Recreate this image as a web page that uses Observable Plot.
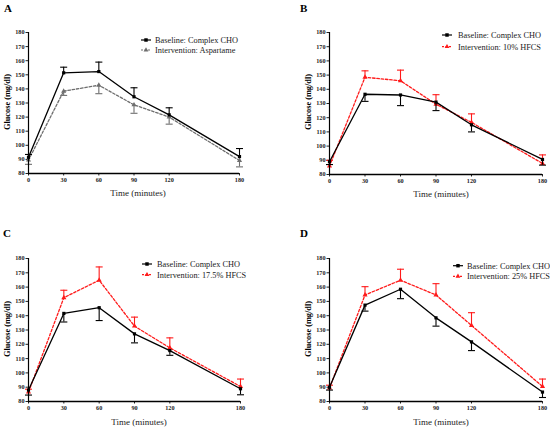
<!DOCTYPE html>
<html>
<head>
<meta charset="utf-8">
<script src="https://cdn.jsdelivr.net/npm/d3@7"></script>
<script src="https://cdn.jsdelivr.net/npm/@observablehq/plot@0.6"></script>
<style>
  html, body { margin: 0; padding: 0; background: #fff; }
  #wrap { position: relative; width: 550px; height: 428px; overflow: hidden; font-family: "Liberation Serif", "DejaVu Serif", serif; }
  .panel { position: absolute; width: 275px; height: 214px; }
  .panel > svg { position: absolute; left: 0; top: 0; }
</style>
</head>
<body>
<div id="wrap"></div>
<script>
// ---- data ----
const times = [0, 30, 60, 90, 120, 180];
const panelLetters = ["A", "B", "C", "D"];
const baselineName = "Baseline: Complex CHO";
const interventionNames = ["Intervention: Aspartame", "Intervention: 10% HFCS", "Intervention: 17.5% HFCS", "Intervention: 25% HFCS"];
const yTicks = [80, 90, 100, 110, 120, 130, 140, 150, 160, 170, 180];
const xTicks = [0, 30, 60, 90, 120, 180];

const baselineA = [91.5, 151.4, 152.3, 134.4, 121.6, 92];
const baselineSemA = [2, 4, 6.7, 6.4, 5, 5.7];
const interventionA = [89.5, 138.4, 142.6, 128.7, 120, 89.2];
const interventionSemA = [3, 3, 6, 6, 5, 4.5];

const baselineB = [89, 136.5, 136, 131, 115, 90.6];
const baselineSemB = [2, 5, 7.5, 6, 5, 4];
const interventionB = [86, 148.5, 146, 129.5, 116.7, 87.8];
const interventionSemB = [4, 4.5, 7.5, 6.7, 6, 6];

const baselineC = [88, 141.6, 145.6, 127.3, 115.6, 88.9];
const baselineSemC = [3.5, 6, 9, 6.3, 3.3, 4.2];
const interventionC = [86.6, 152.6, 164.8, 132.7, 117.5, 90.5];
const interventionSemC = [2, 5.2, 9.3, 6.3, 7, 5.2];

const baselineD = [90, 147.4, 158.5, 138.5, 121.7, 86.6];
const baselineSemD = [2, 4.2, 6.6, 5.8, 6.1, 3.8];
const interventionD = [89.4, 154.5, 164.8, 154.5, 133.2, 90.5];
const interventionSemD = [2, 5.8, 7.7, 7.9, 8.9, 5.2];

const baselines = [baselineA, baselineB, baselineC, baselineD];
const baselineSems = [baselineSemA, baselineSemB, baselineSemC, baselineSemD];
const interventions = [interventionA, interventionB, interventionC, interventionD];
const interventionSems = [interventionSemA, interventionSemB, interventionSemC, interventionSemD];
// error bar direction per panel: +1 up, -1 down
const baselineDir = [1, -1, -1, -1];
const interventionDir = [-1, 1, 1, 1];

// ---- layout ----
const layouts = [
  {left: 0,   top: 0,   mL: 28, mR: 36, mT: 32, mB: 41, ylab: [7, 102],  xlab: [138, 196], letter: [4, 12],  leg: [146, 155, 40, 50]},
  {left: 275, top: 0,   mL: 54, mR: 8,  mT: 32, mB: 40, ylab: [33, 102], xlab: [166, 197], letter: [25, 12], leg: [172, 183, 35, 46.7]},
  {left: 0,   top: 214, mL: 28, mR: 35, mT: 44, mB: 27, ylab: [7, 115],  xlab: [139, 211], letter: [3, 23],  leg: [147, 157, 50, 60.7]},
  {left: 275, top: 214, mL: 54, mR: 8,  mT: 44, mB: 27, ylab: [33, 115], xlab: [166, 211], letter: [25, 23], leg: [183, 192, 51.7, 62.3]}
];
const interventionColors = ["#6e6e6e", "#ff1a1a", "#ff1a1a", "#ff1a1a"];

const capSymbol = {
  draw(ctx, size) {
    const w = Math.sqrt(size) * 0.9;
    ctx.moveTo(-w, 0);
    ctx.lineTo(w, 0);
  }
};

const wrap = document.getElementById("wrap");

panelLetters.forEach((letter, i) => {
  const L = layouts[i];
  const icol = interventionColors[i];
  const base = times.map((t, k) => ({t, v: baselines[i][k], e: baselines[i][k] + baselineDir[i] * baselineSems[i][k]}));
  const intv = times.map((t, k) => ({t, v: interventions[i][k], e: interventions[i][k] + interventionDir[i] * interventionSems[i][k]}));

  const plot = Plot.plot({
    width: 275,
    height: 214,
    marginLeft: L.mL, marginRight: L.mR, marginTop: L.mT, marginBottom: L.mB,
    style: {fontFamily: "Liberation Serif, serif", fontSize: "6.2px", fontWeight: "bold", color: "#222", background: "transparent"},
    x: {domain: [0, 180], ticks: xTicks, tickSize: 2.5, tickPadding: 2, label: null},
    y: {domain: [80, 180], ticks: yTicks, tickSize: 2.5, tickPadding: 1.5, label: null},
    marks: [
      Plot.ruleX(intv, {x: "t", y1: "v", y2: "e", stroke: icol, strokeWidth: 1.1}),
      Plot.dot(intv, {x: "t", y: "e", symbol: capSymbol, r: 2.2, stroke: icol, strokeWidth: 1.1}),
      Plot.line(intv, {x: "t", y: "v", stroke: icol, strokeWidth: 1.3, strokeDasharray: "2.5,1.8"}),
      Plot.dot(intv, {x: "t", y: "v", symbol: "triangle", r: 1.9, fill: icol, stroke: "none"}),
      Plot.ruleX(base, {x: "t", y1: "v", y2: "e", stroke: "#000", strokeWidth: 1.1}),
      Plot.dot(base, {x: "t", y: "e", symbol: capSymbol, r: 2.2, stroke: "#000", strokeWidth: 1.1}),
      Plot.line(base, {x: "t", y: "v", stroke: "#000", strokeWidth: 1.3}),
      Plot.dot(base, {x: "t", y: "v", symbol: "square", r: 1.8, fill: "#000", stroke: "none"}),
      Plot.ruleX([0], {stroke: "#000", strokeWidth: 1.2}),
      Plot.ruleY([80], {stroke: "#000", strokeWidth: 1.4})
    ]
  });

  const div = document.createElement("div");
  div.className = "panel";
  div.style.left = L.left + "px";
  div.style.top = L.top + "px";
  div.appendChild(plot);

  // overlay: panel letter, axis titles, legend
  const ov = d3.create("svg").attr("width", 275).attr("height", 214)
    .style("font-family", "Liberation Serif, serif").style("overflow", "visible");
  ov.append("text").attr("x", L.letter[0]).attr("y", L.letter[1])
    .attr("font-size", 11).attr("font-weight", "bold").text(letter);
  ov.append("text").attr("transform", `translate(${L.ylab[0]},${L.ylab[1]}) rotate(-90)`)
    .attr("text-anchor", "middle").attr("dy", "0.35em").attr("font-size", 8.3).attr("font-weight", "bold").text("Glucose (mg/dl)");
  ov.append("text").attr("x", L.xlab[0]).attr("y", L.xlab[1])
    .attr("text-anchor", "middle").attr("font-size", 9).attr("fill", "#222").text("Time (minutes)");

  const [sx, tx, r1, r2] = L.leg;
  // baseline legend
  ov.append("line").attr("x1", sx - 5).attr("x2", sx + 5).attr("y1", r1).attr("y2", r1).attr("stroke", "#000").attr("stroke-width", 1.2);
  ov.append("path").attr("d", d3.symbol(d3.symbolSquare, 12)()).attr("transform", `translate(${sx},${r1})`).attr("fill", "#000");
  ov.append("text").attr("x", tx).attr("y", r1).attr("dy", "0.35em").attr("font-size", 8.3).attr("fill", "#222").text(baselineName);
  // intervention legend
  ov.append("line").attr("x1", sx - 5).attr("x2", sx + 5).attr("y1", r2).attr("y2", r2).attr("stroke", icol).attr("stroke-width", 1.2).attr("stroke-dasharray", "2,1.5");
  ov.append("path").attr("d", d3.symbol(d3.symbolTriangle, 10)()).attr("transform", `translate(${sx},${r2})`).attr("fill", icol);
  ov.append("text").attr("x", tx).attr("y", r2).attr("dy", "0.35em").attr("font-size", 8.3).attr("fill", "#222").text(interventionNames[i]);

  div.appendChild(ov.node());
  wrap.appendChild(div);
});
</script>
</body>
</html>
